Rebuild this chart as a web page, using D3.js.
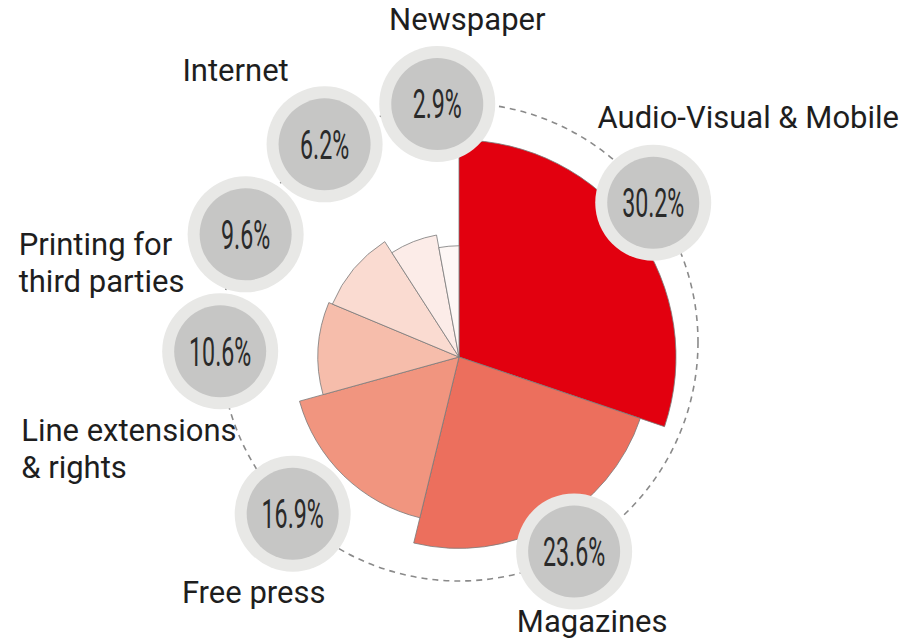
<!DOCTYPE html>
<html>
<head>
<meta charset="utf-8">
<script src="https://cdn.jsdelivr.net/npm/d3@7"></script>
<style>
  html, body { margin: 0; padding: 0; background: #fff; }
  svg { display: block; }
</style>
</head>
<body>
<div id="chart"></div>
<script>
// Segmenti, in senso orario a partire dalle ore 12 ("\n" = a capo nell'etichetta)
const categories = ['Audio-Visual & Mobile', 'Magazines', 'Free press', 'Line extensions\n& rights',
                    'Printing for\nthird parties', 'Internet', 'Newspaper'];
const shares = [30.2, 23.6, 16.9, 10.6, 9.6, 6.2, 2.9];
const sliceColors = ['#e2000f', '#ec6f5d', '#f1957f', '#f6bdab', '#fadbd1', '#fcece8', '#fdf7f5'];

// Configurazione del grafico
const config = {
    width: 905,
    height: 641,
    center: { x: 459, y: 357 },
    radius: { min: 100, max: 217 },          // raggio degli spicchi
    ring: { dy: -15, r: 239 },                // anello tratteggiato con le bolle
    bubble: { outer: 58, inner: 46, minGap: 29 },
    labelSize: 31,
    lineHeight: 37,
    // posizione delle etichette rispetto al centro della bolla
    labelOffset: [
        { dx: -42, dy: -75, anchor: 'start' },
        { dx: 18, dy: 100, anchor: 'middle' },
        { dx: -39, dy: 89, anchor: 'middle' },
        { dx: -199, dy: 90, anchor: 'start' },
        { dx: -227, dy: 21, anchor: 'start' },
        { dx: -89, dy: -63, anchor: 'middle' },
        { dx: 30, dy: -74, anchor: 'middle' }
    ]
};

const data = categories.map((name, i) => ({ name: name, value: shares[i], color: sliceColors[i] }));

const svg = d3.select('#chart').append('svg')
    .attr('width', config.width)
    .attr('height', config.height);

// Spicchi: angolo dal valore, raggio dal valore
const pie = d3.pie().sort(null).value(d => d.value);
const arcs = pie(data);

const rScale = d3.scaleLinear()
    .domain([0, d3.max(shares)])
    .range([config.radius.min, config.radius.max]);

const arc = d3.arc()
    .innerRadius(0)
    .outerRadius(d => rScale(d.data.value));

svg.append('g')
    .attr('transform', `translate(${config.center.x},${config.center.y})`)
    .selectAll('path')
    .data(arcs)
    .join('path')
    .attr('d', arc)
    .attr('fill', d => d.data.color)
    .attr('stroke', '#7a7a7a')
    .attr('stroke-width', 0.8)
    .attr('stroke-linejoin', 'round');

// Anello tratteggiato
const ringX = config.center.x;
const ringY = config.center.y + config.ring.dy;
const R = config.ring.r;

svg.append('circle')
    .attr('cx', ringX)
    .attr('cy', ringY)
    .attr('r', R)
    .attr('fill', 'none')
    .attr('stroke', '#8a8a8a')
    .attr('stroke-width', 1.6)
    .attr('stroke-dasharray', '6,5');

// Angoli delle bolle: centro dello spicchio, poi spostate all'indietro se troppo vicine
const gap = config.bubble.minGap * Math.PI / 180;
const angles = arcs.map(d => (d.startAngle + d.endAngle) / 2);
for (let i = angles.length - 2; i >= 0; i--) {
    angles[i] = Math.min(angles[i], angles[i + 1] - gap);
}
const pos = angles.map(a => ({ x: ringX + R * Math.sin(a), y: ringY - R * Math.cos(a) }));

const fmt = d3.format('.1f');

const bubble = svg.append('g')
    .selectAll('g')
    .data(arcs)
    .join('g')
    .attr('transform', (d, i) => `translate(${pos[i].x},${pos[i].y})`);

bubble.append('circle')
    .attr('r', config.bubble.outer)
    .attr('fill', '#e8e8e6');

bubble.append('circle')
    .attr('r', config.bubble.inner)
    .attr('fill', '#c6c6c5');

bubble.append('text')
    .attr('transform', 'scale(0.58,1)')
    .attr('text-anchor', 'middle')
    .attr('dy', '0.36em')
    .attr('font-family', 'Roboto, sans-serif')
    .attr('font-size', 40)
    .attr('fill', '#2a2a2a')
    .text(d => fmt(d.data.value) + '%');

// Etichette delle categorie
const labels = svg.append('g');
data.forEach((d, i) => {
    const off = config.labelOffset[i];
    const lbl = labels.append('g')
        .attr('transform', `translate(${pos[i].x + off.dx},${pos[i].y + off.dy})`);
    const text = lbl.append('text')
        .attr('text-anchor', off.anchor)
        .attr('font-family', 'Roboto, sans-serif')
        .attr('font-size', config.labelSize)
        .attr('fill', '#1e1e1e');
    d.name.split('\n').forEach((line, j) => {
        text.append('tspan')
            .attr('x', 0)
            .attr('y', j * config.lineHeight)
            .text(line);
    });

    // tieni l'etichetta dentro l'area visibile
    const bb = lbl.node().getBBox();
    let sx = 0, sy = 0;
    const left = pos[i].x + off.dx + bb.x;
    const right = left + bb.width;
    const bottom = pos[i].y + off.dy + bb.y + bb.height;
    if (right > config.width - 6) sx = config.width - 6 - right;
    if (left + sx < 6) sx = 6 - left;
    if (bottom > config.height - 1) sy = config.height - 1 - bottom;
    lbl.attr('transform', `translate(${pos[i].x + off.dx + sx},${pos[i].y + off.dy + sy})`);
});
</script>
</body>
</html>
